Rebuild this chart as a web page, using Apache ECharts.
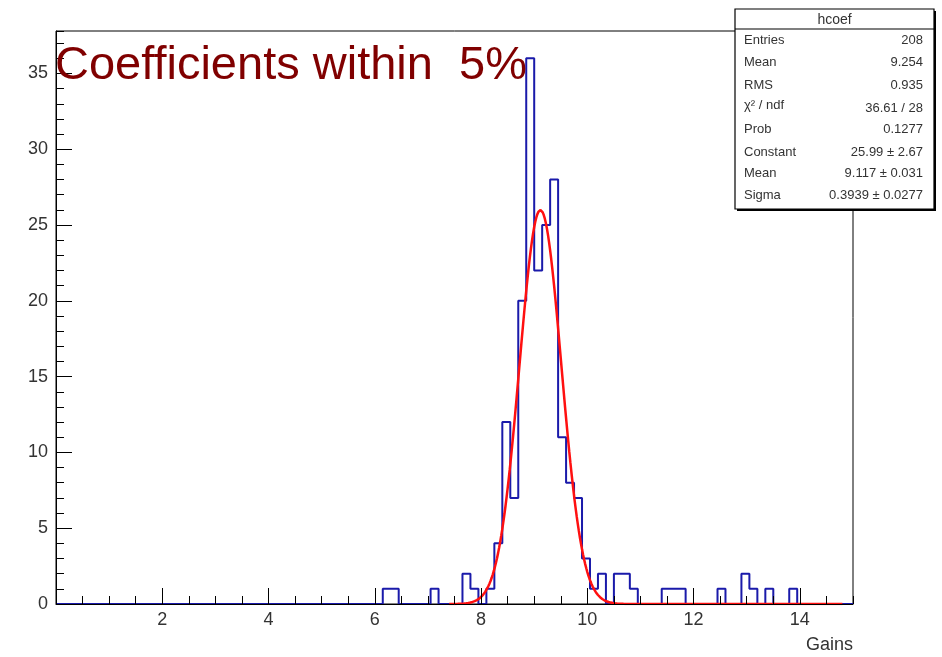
<!DOCTYPE html>
<html>
<head>
<meta charset="utf-8">
<script src="https://cdn.jsdelivr.net/npm/echarts@6/dist/echarts.min.js"></script>
<style>
  html, body { margin: 0; padding: 0; background: #ffffff; }
  #chart { width: 942px; height: 657px; }
</style>
</head>
<body>
<div id="chart"></div>
<script>
// Histogram "hcoef": 100 bins of width 0.15 over [0, 15]; only the filled bins are listed.
const binLowEdges = [6.15, 6.30, 7.05, 7.65, 7.80, 8.10, 8.25, 8.40, 8.55, 8.70,
                     8.85, 9.00, 9.15, 9.30, 9.45, 9.60, 9.75, 9.90, 10.05, 10.20,
                     10.50, 10.65, 10.80, 11.40, 11.55, 11.70, 12.45, 12.90, 13.05, 13.35,
                     13.80];
const binCounts   = [1, 1, 1, 2, 1, 1, 4, 12, 7, 20,
                     36, 22, 25, 28, 11, 8, 7, 3, 1, 2,
                     2, 2, 1, 1, 1, 1, 1, 2, 1, 1,
                     1];
const histMin = 0;
const histMax = 15;
const binWidth = 0.15;
const yMax = 37.8;

// Gaussian fit parameters (as printed in the stats box) and the drawn range of the curve
const fitConstant = 25.99;
const fitMean = 9.117;
const fitSigma = 0.3939;
const fitDrawFrom = 7.4;
const fitDrawTo = 14.8;

// Stats box rows
const statsTitle = 'hcoef';
const statsLabels = ['Entries', 'Mean', 'RMS', 'χ² / ndf', 'Prob', 'Constant', 'Mean', 'Sigma'];
const statsValues = ['208', '9.254', '0.935', '36.61 / 28', '0.1277',
                     fitConstant.toFixed(2) + ' ± 2.67',
                     fitMean.toFixed(3) + ' ± 0.031',
                     fitSigma.toFixed(4) + ' ± 0.0277'];

const plotTitle = 'Coefficients within  5%';
const xTitle = 'Gains';

// ---- build the step outline of the histogram
const nBins = Math.round((histMax - histMin) / binWidth);
const counts = new Array(nBins).fill(0);
binLowEdges.forEach((edge, k) => {
  counts[Math.round((edge - histMin) / binWidth)] = binCounts[k];
});
const histLine = [];
for (let i = 0; i < nBins; i++) histLine.push([histMin + i * binWidth, counts[i]]);
histLine.push([histMax, counts[nBins - 1]]);

// ---- fitted gaussian curve
const fitLine = [];
for (let x = fitDrawFrom; x <= fitDrawTo + 1e-9; x += 0.02) {
  const u = (x - fitMean) / fitSigma;
  fitLine.push([x, fitConstant * Math.exp(-0.5 * u * u)]);
}

const FONT = '"Liberation Sans", Arial, Helvetica, sans-serif';
const TEXT = '#333333';

const chart = echarts.init(document.getElementById('chart'), null, { renderer: 'canvas' });

// stats box graphics
const boxLeft = 735, boxTop = 9, boxW = 199, boxH = 200, titleH = 20;
const rowY = [40, 62, 85, 105, 129, 152, 173, 195];
const statsGraphics = [
  { type: 'rect', z: 100, shape: { x: boxLeft + 2, y: boxTop + 2, width: boxW, height: boxH },
    style: { fill: '#000' } },
  { type: 'rect', z: 101, shape: { x: boxLeft, y: boxTop, width: boxW, height: boxH },
    style: { fill: '#fff', stroke: '#000', lineWidth: 1.2 } },
  { type: 'line', z: 102, shape: { x1: boxLeft, y1: boxTop + titleH, x2: boxLeft + boxW, y2: boxTop + titleH },
    style: { stroke: '#000', lineWidth: 1.2 } },
  { type: 'text', z: 102, x: boxLeft + boxW / 2, y: boxTop + titleH / 2 + 1,
    style: { text: statsTitle, font: '14px ' + FONT, fill: TEXT, textAlign: 'center', textVerticalAlign: 'middle' } }
];
statsLabels.forEach((lab, i) => {
  statsGraphics.push({ type: 'text', z: 102, x: boxLeft + 9, y: rowY[i],
    style: { text: lab, font: '13px ' + FONT, fill: TEXT, textAlign: 'left', textVerticalAlign: 'middle' } });
  statsGraphics.push({ type: 'text', z: 102, x: boxLeft + boxW - 11, y: rowY[i] + (i === 3 ? 3 : 0),
    style: { text: statsValues[i], font: '13px ' + FONT, fill: TEXT, textAlign: 'right', textVerticalAlign: 'middle' } });
});

const axisCommon = {
  type: 'value',
  splitLine: { show: false },
  axisPointer: { show: false }
};

chart.setOption({
  animation: false,
  backgroundColor: '#ffffff',
  grid: {
    left: 56, right: 89, top: 31, bottom: 53,
    show: true, borderColor: '#000', borderWidth: 1, backgroundColor: 'transparent'
  },
  xAxis: [
    Object.assign({}, axisCommon, {
      min: histMin, max: histMax, interval: 0.5, position: 'bottom', z: 10,
      axisLine: { show: true, lineStyle: { color: '#000', width: 1 } },
      axisTick: { show: true, inside: true, length: 8, lineStyle: { color: '#000', width: 1 } },
      axisLabel: { show: false }
    }),
    Object.assign({}, axisCommon, {
      min: histMin, max: histMax, interval: 2, position: 'bottom', z: 10,
      axisLine: { show: false },
      axisTick: { show: true, inside: true, length: 16, lineStyle: { color: '#000', width: 1 } },
      axisLabel: { show: true, margin: 7, showMinLabel: false, showMaxLabel: false,
                   color: TEXT, fontSize: 18, fontFamily: FONT }
    })
  ],
  yAxis: [
    Object.assign({}, axisCommon, {
      min: 0, max: yMax, interval: 1, position: 'left', z: 10,
      axisLine: { show: true, lineStyle: { color: '#000', width: 1 } },
      axisTick: { show: true, inside: true, length: 8, lineStyle: { color: '#000', width: 1 } },
      axisLabel: { show: false }
    }),
    Object.assign({}, axisCommon, {
      min: 0, max: yMax, interval: 5, position: 'left', z: 10,
      axisLine: { show: false },
      axisTick: { show: true, inside: true, length: 16, lineStyle: { color: '#000', width: 1 } },
      axisLabel: { show: true, margin: 8, showMaxLabel: false,
                   color: TEXT, fontSize: 18, fontFamily: FONT }
    })
  ],
  series: [
    {
      type: 'line', name: 'hcoef', xAxisIndex: 0, yAxisIndex: 0,
      data: histLine, step: 'end', symbol: 'none', silent: true, z: 3,
      lineStyle: { color: '#1a1aaa', width: 2 }
    },
    {
      type: 'line', name: 'gaus', xAxisIndex: 0, yAxisIndex: 0,
      data: fitLine, symbol: 'none', silent: true, smooth: false, z: 4,
      lineStyle: { color: '#ff1010', width: 2.5 }
    }
  ],
  graphic: [
    { type: 'text', z: 50, left: 55, top: 43,
      style: { text: plotTitle, font: '47px ' + FONT, fill: '#800000' } },
    { type: 'text', z: 50, x: 853, y: 645,
      style: { text: xTitle, font: '18px ' + FONT, fill: TEXT, textAlign: 'right', textVerticalAlign: 'middle' } }
  ].concat(statsGraphics)
});
</script>
</body>
</html>
